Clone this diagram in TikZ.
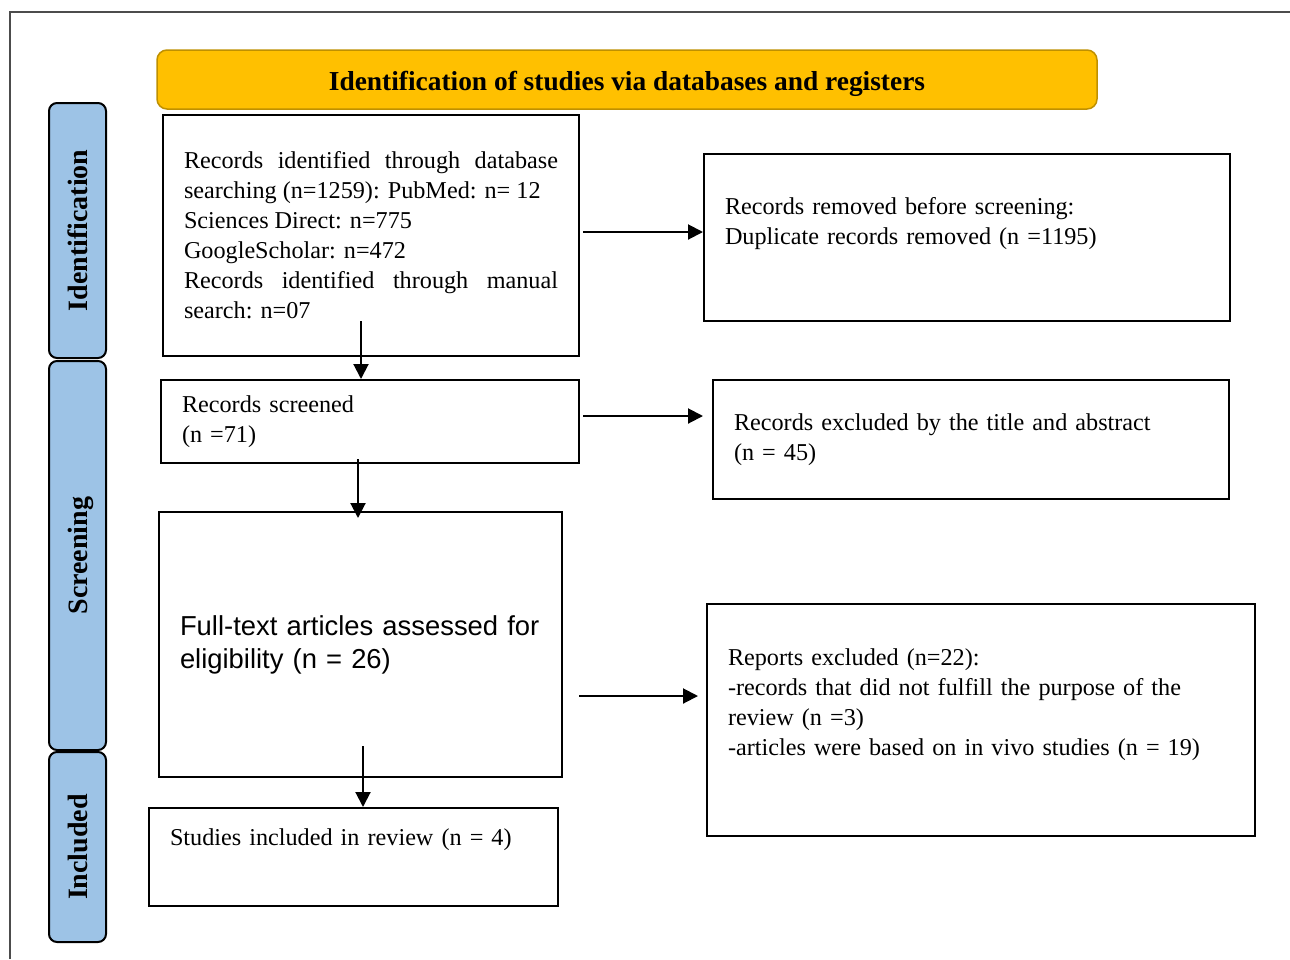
\documentclass[tikz,border=0pt]{standalone}
\usepackage{fontspec}
\setmainfont{Liberation Serif}
\newfontfamily\arialfont{Liberation Sans}
\usetikzlibrary{arrows.meta}
\definecolor{hdrgold}{HTML}{FFC000}
\definecolor{hdredge}{HTML}{BF9000}
\definecolor{stageblue}{HTML}{9DC3E6}
\tolerance=10000

\begin{document}
\begin{tikzpicture}[x=1pt, y=-1pt,
		box/.style={draw, line width=2pt, inner xsep=21pt, inner ysep=0pt, align=left, font=\fontsize{24.2}{30}\selectfont},
		stage/.style={draw, line width=2pt, rounded corners=8pt, fill=stageblue, rotate=90, minimum height=57pt, inner sep=0pt, text height=25pt, text depth=6pt, font=\bfseries\fontsize{28}{30}\selectfont},
		header/.style={draw=hdredge, line width=1.5pt, rounded corners=10pt, fill=hdrgold, inner sep=0pt, text height=27pt, text depth=6pt, font=\bfseries\fontsize{27.4}{30}\selectfont},
		arr/.style={-{Triangle[length=15pt,width=15pt]}, line width=2pt}]
		%%%%% START %%%%%
		
		\useasboundingbox (0, 0) rectangle (1290, 959);
		\draw[line width=1.2pt, color=black!70] (10, 959) -- (10, 12) -- (1290, 12);
		
		\node[header, minimum width=940pt, minimum height=59pt] (hdr) at (627, 79.5) {Identification of studies via databases and registers};
		
		\node[stage, minimum width=255pt] (sid) at (77.5, 230.5) {Identification};
		\node[stage, minimum width=389pt] (sscr) at (77.5, 555.5) {Screening};
		\node[stage, minimum width=190pt] (sinc) at (77.5, 847) {Included};
		
		\node[box, align=justify, text width=374pt, minimum height=241pt] (recid) at (371, 235.5) {Records identified through database searching (n=1259): PubMed: n=~12\\ Sciences Direct: n=775\\ GoogleScholar: n=472\\ Records identified through manual search: n=07};
		\node[box, text width=484pt, minimum height=167pt, text depth=63pt] (recrm) at (967, 237.5) {Records removed before screening:\\ Duplicate records removed (n =1195)};
		
		\node[box, text width=376pt, minimum height=83pt] (recscr) at (370, 421.5) {Records screened\\ (n =71)};
		\node[box, text width=474pt, minimum height=119pt] (recex) at (971, 439.5) {Records excluded by the title and abstract\\ (n = 45)};
		
		\node[box, text width=361pt, minimum height=265pt, font=\arialfont\fontsize{27.4}{33}\selectfont] (fulltxt) at (360.5, 644.5) {Full-text articles assessed for\\ eligibility (n = 26)};
		\node[box, text width=506pt, minimum height=232pt, text depth=125pt] (repex) at (981, 720) {Reports excluded (n=22):\\ -records that did not fulfill the purpose of the\\ review (n =3)\\ -articles were based on in vivo studies (n = 19)};
		
		\node[box, text width=367pt, minimum height=98pt, text depth=39pt] (incl) at (353.5, 857) {Studies included in review (n = 4)};
		
		% right arrows
		\draw[arr] ([shift={(3,-3.5)}]recid.east) -- ([shift={(0,-5.5)}]recrm.west);
		\draw[arr] ([shift={(3,-5.5)}]recscr.east) -- ([shift={(-9,-23.5)}]recex.west);
		\draw[arr] ([shift={(16,51.5)}]fulltxt.east) -- ([shift={(-8,-24)}]repex.west);
		
		% down arrows
		\draw[arr] ([shift={(-10,-36)}]recid.south) -- ([shift={(-9,0)}]recscr.north);
		\draw[arr] ([shift={(-12,-5)}]recscr.south) -- ([shift={(-2.5,7)}]fulltxt.north);
		\draw[arr] ([shift={(2.5,-32)}]fulltxt.south) -- ([shift={(9.5,0)}]incl.north);
		
		%%%%% END %%%%%
\end{tikzpicture}
\end{document}
